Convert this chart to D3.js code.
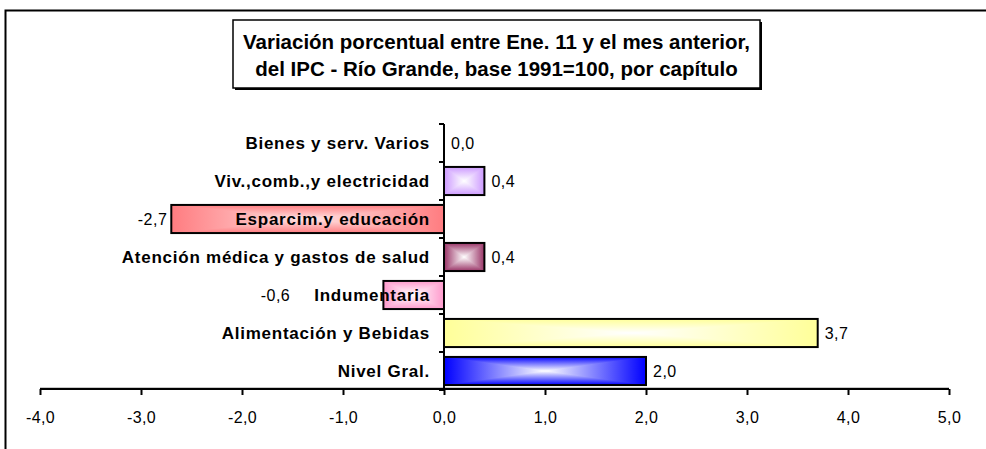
<!DOCTYPE html>
<html>
<head>
<meta charset="utf-8">
<script src="https://cdn.jsdelivr.net/npm/d3@7"></script>
<style>
  body { margin: 0; background: #fff; }
  svg { display: block; font-family: "Liberation Sans", Arial, sans-serif; }
</style>
</head>
<body>
<div id="chart"></div>
<script>
// chart data, top row first
var categories = [
    "Bienes y serv. Varios",
    "Viv.,comb.,y electricidad",
    "Esparcim.y educación",
    "Atención médica y gastos de salud",
    "Indumentaria",
    "Alimentación y Bebidas",
    "Nivel Gral."
];
var values = [0.0, 0.4, -2.7, 0.4, -0.6, 3.7, 2.0];
var edgeColors = ["#999999", "#cc99ff", "#ff7c80", "#993366", "#ff99cc", "#ffff99", "#0000ff"];
var centerColors = ["#ffffff", "#ffffff", "#ffe2e2", "#ffffff", "#ffffff", "#ffffff", "#ffffff"];
var tickValues = [-4, -3, -2, -1, 0, 1, 2, 3, 4, 5];
var titleLines = [
    "Variación porcentual entre Ene. 11 y el mes anterior,",
    "del IPC - Río Grande, base 1991=100, por capítulo"
];

var W = 986, H = 449;
var svg = d3.select("#chart").append("svg")
    .attr("width", W)
    .attr("height", H);

var loc = d3.formatLocale({decimal: ",", thousands: ".", grouping: [3], currency: ["$", ""], minus: "-"});
var fmt = loc.format(".1f");

// outer frame (runs off the right and bottom of the picture)
svg.append("rect")
    .attr("x", 5.5).attr("y", 10.5)
    .attr("width", W + 20).attr("height", H + 20)
    .attr("fill", "none").attr("stroke", "#000").attr("stroke-width", 2);

// title box with a small shadow
var tb = {x: 233, y: 20, w: 527, h: 68};
svg.append("rect")
    .attr("x", tb.x + 2).attr("y", tb.y + 2)
    .attr("width", tb.w).attr("height", tb.h)
    .attr("fill", "#000");
svg.append("rect")
    .attr("x", tb.x).attr("y", tb.y)
    .attr("width", tb.w).attr("height", tb.h)
    .attr("fill", "#fff").attr("stroke", "#000").attr("stroke-width", 1.5);
svg.selectAll(".title").data(titleLines).enter().append("text")
    .attr("class", "title")
    .attr("x", tb.x + tb.w / 2)
    .attr("y", function(d, i) { return 49 + i * 27; })
    .attr("text-anchor", "middle")
    .style("font-size", "20.5px")
    .style("font-weight", "bold")
    .text(function(d) { return d; });

var x = d3.scaleLinear().domain([-4, 5]).range([40, 949]);
var y = d3.scaleBand().domain(categories).range([124, 390])
    .paddingInner(0.26).paddingOuter(0.13);

var rows = categories.map(function(c, i) {
    return {name: c, value: values[i], edge: edgeColors[i], center: centerColors[i], id: i};
});

// gradients: horizontal and vertical, blended with "darken" to get a from-centre look
var defs = svg.append("defs");
rows.forEach(function(d) {
    var h = defs.append("linearGradient").attr("id", "gh" + d.id)
        .attr("x1", "0").attr("x2", "1").attr("y1", "0").attr("y2", "0");
    h.append("stop").attr("offset", "0%").attr("stop-color", d.edge);
    h.append("stop").attr("offset", "50%").attr("stop-color", d.center);
    h.append("stop").attr("offset", "100%").attr("stop-color", d.edge);
    var v = defs.append("linearGradient").attr("id", "gv" + d.id)
        .attr("x1", "0").attr("x2", "0").attr("y1", "0").attr("y2", "1");
    v.append("stop").attr("offset", "0%").attr("stop-color", d.edge);
    v.append("stop").attr("offset", "50%").attr("stop-color", d.center);
    v.append("stop").attr("offset", "100%").attr("stop-color", d.edge);
});

// light plot-area line under the bars
svg.append("line")
    .attr("x1", x(-4)).attr("x2", x(5))
    .attr("y1", 387.5).attr("y2", 387.5)
    .attr("stroke", "#c8c8c8").attr("stroke-width", 1);

var bars = svg.selectAll(".bar").data(rows.filter(function(d) { return d.value !== 0; }))
    .enter().append("g").attr("class", "bar")
    .style("isolation", "isolate");
bars.append("rect")
    .attr("x", function(d) { return x(Math.min(0, d.value)); })
    .attr("y", function(d) { return y(d.name); })
    .attr("width", function(d) { return Math.abs(x(d.value) - x(0)); })
    .attr("height", y.bandwidth())
    .attr("fill", function(d) { return "url(#gh" + d.id + ")"; });
bars.append("rect")
    .attr("x", function(d) { return x(Math.min(0, d.value)); })
    .attr("y", function(d) { return y(d.name); })
    .attr("width", function(d) { return Math.abs(x(d.value) - x(0)); })
    .attr("height", y.bandwidth())
    .attr("fill", function(d) { return "url(#gv" + d.id + ")"; })
    .style("mix-blend-mode", "darken");
bars.append("rect")
    .attr("x", function(d) { return x(Math.min(0, d.value)); })
    .attr("y", function(d) { return y(d.name); })
    .attr("width", function(d) { return Math.abs(x(d.value) - x(0)); })
    .attr("height", y.bandwidth())
    .attr("fill", "none")
    .attr("stroke", "#000")
    .attr("stroke-width", 2);

// x axis
var xAxis = svg.append("g")
    .attr("transform", "translate(0,389)")
    .call(d3.axisBottom(x).tickValues(tickValues).tickFormat(fmt).tickSize(6).tickPadding(17));
xAxis.select(".domain").attr("stroke", "#000").attr("stroke-width", 2)
    .attr("d", "M" + x(-4) + ",0H" + x(5));
xAxis.selectAll(".tick line").attr("stroke-width", 2);
xAxis.selectAll("text")
    .style("font-family", "'Liberation Sans', Arial, sans-serif")
    .style("font-size", "16px")
    .style("letter-spacing", "0.4px")
    .attr("fill", "#000");

// y axis at zero, ticks on band boundaries
var y0 = y.range()[0], y1 = y.range()[1];
svg.append("line")
    .attr("x1", x(0)).attr("x2", x(0))
    .attr("y1", y0).attr("y2", y1)
    .attr("stroke", "#000").attr("stroke-width", 2);
var bounds = categories.map(function(c) { return y(c) - y.step() * y.paddingInner() / 2; });
bounds.push(y1);
svg.selectAll(".ytick").data(bounds).enter().append("line")
    .attr("class", "ytick")
    .attr("x1", x(0) - 5).attr("x2", x(0))
    .attr("y1", function(d) { return d; }).attr("y2", function(d) { return d; })
    .attr("stroke", "#000").attr("stroke-width", 2);

// category labels
var labels = svg.selectAll(".cat").data(rows).enter().append("text")
    .attr("class", "cat")
    .attr("x", x(0) - 14)
    .attr("y", function(d) { return y(d.name) + y.bandwidth() / 2; })
    .attr("dy", "0.35em")
    .attr("text-anchor", "end")
    .style("font-size", "17px")
    .style("font-weight", "bold")
    .style("letter-spacing", "0.75px")
    .text(function(d) { return d.name; });

var labelStart = {};
labels.each(function(d) {
    labelStart[d.name] = x(0) - 14 - this.getComputedTextLength();
});

// value labels
svg.selectAll(".val").data(rows).enter().append("text")
    .attr("class", "val")
    .attr("x", function(d) {
        if (d.value >= 0) return x(d.value) + 7;
        return Math.min(x(d.value), labelStart[d.name] - 20) - 4;
    })
    .attr("y", function(d) { return y(d.name) + y.bandwidth() / 2; })
    .attr("dy", "0.35em")
    .attr("text-anchor", function(d) { return d.value >= 0 ? "start" : "end"; })
    .style("font-size", "16px")
    .style("letter-spacing", "0.5px")
    .text(function(d) { return fmt(d.value); });
</script>
</body>
</html>
